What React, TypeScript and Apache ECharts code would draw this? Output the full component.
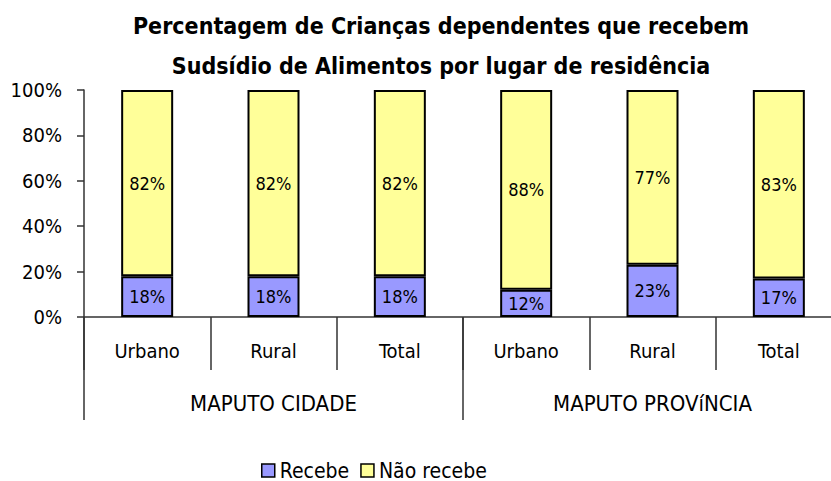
import React, { useEffect, useRef } from "react";
import * as echarts from "echarts";

const categories = ["Urbano", "Rural", "Total", "Urbano", "Rural", "Total"];
const groups = ["MAPUTO CIDADE", "MAPUTO PROVíNCIA"];
const recebe = [18, 18, 18, 12, 23, 17];
const naoRecebe = [82, 82, 82, 88, 77, 83];
const seriesNames = ["Recebe", "Não recebe"];
const titleLines = [
  "Percentagem de Crianças dependentes que recebem",
  "Sudsídio de Alimentos por lugar de residência",
];

const FONT = "'Liberation Sans Narrow', 'Arial Narrow', 'DejaVu Sans Condensed', sans-serif";

export default function App() {
  const ref = useRef<HTMLDivElement>(null);
  useEffect(() => {
    if (!ref.current) return;
    const chart = echarts.init(ref.current, undefined, { renderer: "svg" });
    const axisColor = "#333";
    chart.setOption({
      animation: false,
      backgroundColor: "#fff",
      title: {
        text: titleLines.join("\n"),
        left: 436,
        top: 1,
        textAlign: "center",
        textStyle: {
          fontFamily: FONT,
          fontWeight: "bold",
          fontSize: 23,
          lineHeight: 40,
          color: "#000",
        },
      },
      legend: {
        left: 256,
        top: 455,
        icon: "rect",
        itemWidth: 13,
        itemHeight: 13,
        itemGap: 11,
        data: seriesNames,
        textStyle: { fontFamily: FONT, fontSize: 21, color: "#000", padding: [0, 0, 0, 0] },
        itemStyle: { borderColor: "#000", borderWidth: 1.5 },
      },
      grid: { left: 84, width: 758, top: 90, bottom: 164, containLabel: false },
      xAxis: [
        {
          type: "category",
          data: categories,
          position: "bottom",
          axisLine: { show: true, lineStyle: { color: axisColor, width: 1.5 } },
          axisTick: { show: true, interval: 0, length: 53, lineStyle: { color: axisColor, width: 1.5 } },
          axisLabel: { interval: 0, margin: 24, fontFamily: FONT, fontSize: 20, color: "#000" },
        },
        {
          type: "category",
          data: groups,
          position: "bottom",
          offset: 0,
          axisLine: { show: false },
          axisTick: { show: true, interval: 0, length: 103, lineStyle: { color: axisColor, width: 1.5 } },
          axisLabel: { interval: 0, margin: 75, fontFamily: FONT, fontSize: 22, color: "#000" },
        },
      ],
      yAxis: {
        type: "value",
        min: 0,
        max: 100,
        interval: 20,
        axisLine: { show: true, lineStyle: { color: axisColor, width: 1.5 } },
        axisTick: { show: true, length: 7, lineStyle: { color: axisColor, width: 1.5 } },
        splitLine: { show: false },
        axisLabel: { formatter: "{value}%", margin: 22, fontFamily: FONT, fontSize: 20, color: "#000" },
      },
      series: [
        {
          name: seriesNames[0],
          type: "bar",
          stack: "t",
          xAxisIndex: 0,
          data: recebe,
          barWidth: 52,
          itemStyle: { color: "#9999FF", borderColor: "#000", borderWidth: 2 },
          label: { show: true, position: "inside", formatter: "{c}%", fontFamily: FONT, fontSize: 18, color: "#000" },
        },
        {
          name: seriesNames[1],
          type: "bar",
          stack: "t",
          xAxisIndex: 0,
          data: naoRecebe,
          barWidth: 52,
          itemStyle: { color: "#FFFF99", borderColor: "#000", borderWidth: 2 },
          label: { show: true, position: "inside", formatter: "{c}%", fontFamily: FONT, fontSize: 18, color: "#000" },
        },
      ],
    });
    return () => chart.dispose();
  }, []);
  return (
    <div style={{ position: "fixed", left: 0, top: 0, width: 831, height: 481, overflow: "hidden", background: "#fff" }}>
      <div ref={ref} style={{ position: "absolute", left: 0, top: 0, width: 860, height: 481 }} />
    </div>
  );
}
